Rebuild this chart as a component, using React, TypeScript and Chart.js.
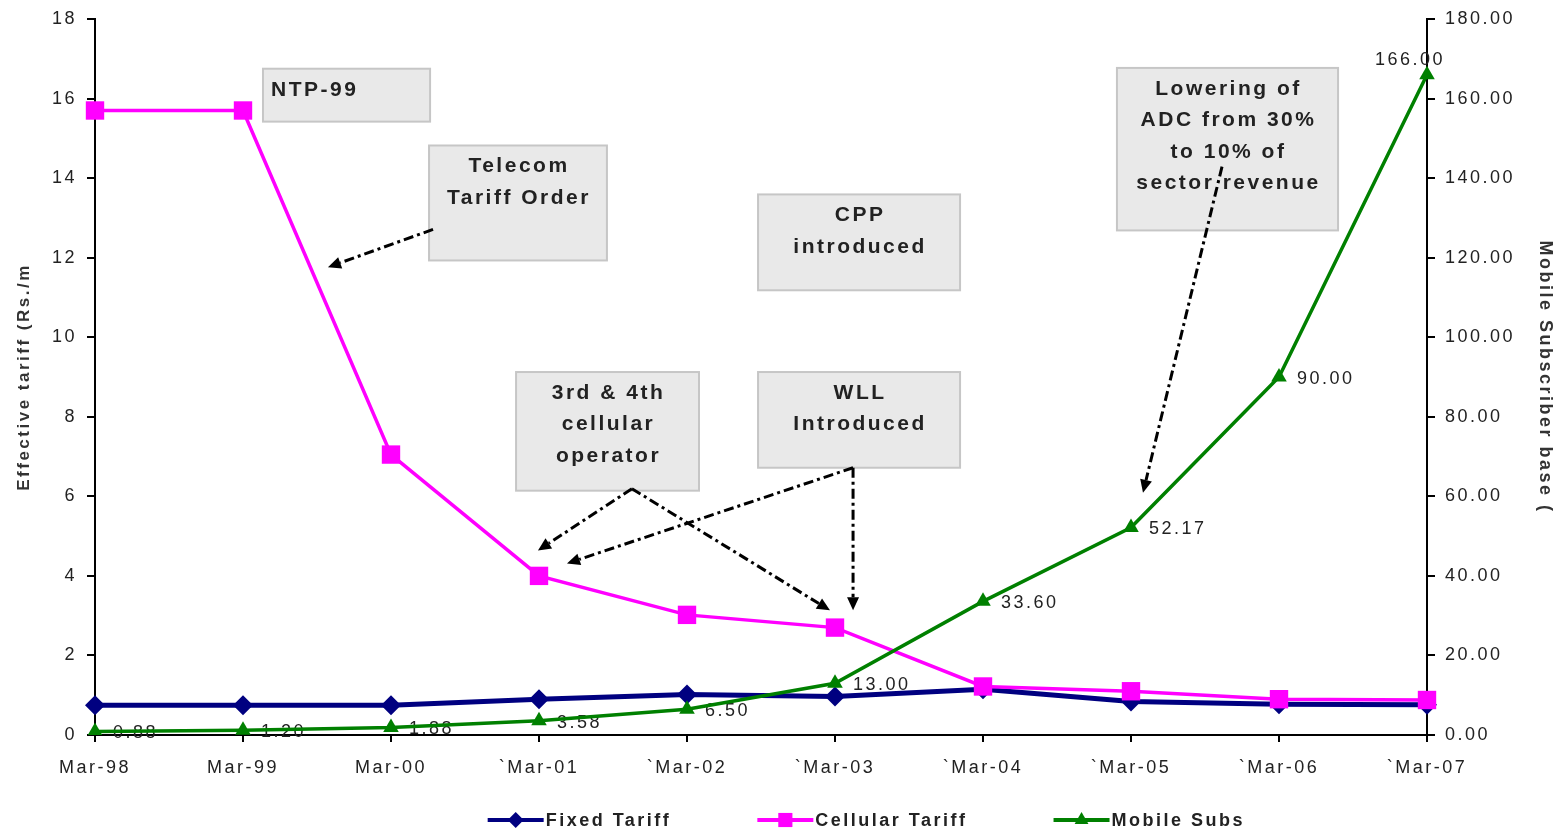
import React, { useEffect, useRef } from "react";
import { Chart, registerables } from "chart.js";

Chart.register(...registerables);

const FONT = "'Liberation Sans', Arial, Helvetica, sans-serif";
const TRACKING = "2.5px";
const TEXT_COLOR = "#222";

// Year-end periods on the category axis
const categories = [
  "Mar-98", "Mar-99", "Mar-00", "`Mar-01", "`Mar-02",
  "`Mar-03", "`Mar-04", "`Mar-05", "`Mar-06", "`Mar-07",
];

// Effective tariffs (Rs./min), left axis
const fixedTariff = [0.75, 0.75, 0.75, 0.9, 1.02, 0.97, 1.15, 0.84, 0.77, 0.76];
const cellularTariff = [15.7, 15.7, 7.05, 4.0, 3.02, 2.7, 1.22, 1.1, 0.9, 0.88];

// Mobile subscriber base (millions), right axis
const mobileSubs = [0.88, 1.2, 1.88, 3.58, 6.5, 13.0, 33.6, 52.17, 90.0, 166.0];

// Policy call-outs, placed in axis units (category index, tariff value)
const callouts = [
  { lines: ["NTP-99"], x0: 1.135, x1: 2.264, yTop: 16.75, yBottom: 15.42, align: "left" },
  { lines: ["Telecom", "Tariff Order"], x0: 2.257, x1: 3.459, yTop: 14.82, yBottom: 11.93, align: "center" },
  { lines: ["CPP", "introduced"], x0: 4.48, x1: 5.845, yTop: 13.59, yBottom: 11.18, align: "center" },
  { lines: ["3rd & 4th", "cellular", "operator"], x0: 2.845, x1: 4.081, yTop: 9.125, yBottom: 6.142, align: "center" },
  { lines: ["WLL", "Introduced"], x0: 4.48, x1: 5.845, yTop: 9.125, yBottom: 6.719, align: "center" },
  { lines: ["Lowering of", "ADC from 30%", "to 10% of", "sector revenue"], x0: 6.905, x1: 8.399, yTop: 16.77, yBottom: 12.685, align: "center" },
];

// Pointer arrows from the call-outs, same units
const pointers = [
  { from: [2.284, 12.71], to: [1.574, 11.76] },
  { from: [3.628, 6.192], to: [2.993, 4.638] },
  { from: [3.628, 6.192], to: [4.966, 3.134] },
  { from: [5.122, 6.719], to: [3.189, 4.312] },
  { from: [5.122, 6.719], to: [5.122, 3.134] },
  { from: [7.615, 14.29], to: [7.081, 6.092] },
];

function drawMarker(ctx: CanvasRenderingContext2D, style: string, x: number, y: number, r: number) {
  ctx.beginPath();
  if (style === "rectRot") {
    ctx.moveTo(x, y - r);
    ctx.lineTo(x + r, y);
    ctx.lineTo(x, y + r);
    ctx.lineTo(x - r, y);
  } else if (style === "rect") {
    const s = r * Math.SQRT1_2;
    ctx.rect(x - s, y - s, 2 * s, 2 * s);
  } else {
    let a = 0;
    ctx.moveTo(x + Math.sin(a) * r, y - Math.cos(a) * r);
    a += (2 * Math.PI) / 3;
    ctx.lineTo(x + Math.sin(a) * r, y - Math.cos(a) * r);
    a += (2 * Math.PI) / 3;
    ctx.lineTo(x + Math.sin(a) * r, y - Math.cos(a) * r);
  }
  ctx.closePath();
  ctx.fill();
}

// Wide tracking for every text the chart renders
const trackingPlugin = {
  id: "tracking",
  beforeUpdate(chart: any) {
    (chart.ctx as any).letterSpacing = TRACKING;
  },
  beforeDraw(chart: any) {
    (chart.ctx as any).letterSpacing = TRACKING;
  },
};

// Value labels on the subscriber series
const valueLabelPlugin = {
  id: "valueLabels",
  beforeDatasetsDraw(chart: any) {
    const ctx: CanvasRenderingContext2D = chart.ctx;
    const meta = chart.getDatasetMeta(2);
    const values = chart.data.datasets[2].data as number[];
    ctx.save();
    (ctx as any).letterSpacing = TRACKING;
    ctx.font = `18px ${FONT}`;
    ctx.fillStyle = TEXT_COLOR;
    ctx.textBaseline = "middle";
    meta.data.forEach((pt: any, i: number) => {
      const txt = values[i].toFixed(2);
      if (i === values.length - 1) {
        ctx.textAlign = "center";
        ctx.fillText(txt, pt.x - 17, pt.y - 15);
      } else {
        ctx.textAlign = "left";
        ctx.fillText(txt, pt.x + 18, pt.y + 2);
      }
    });
    ctx.restore();
  },
};

// Call-out boxes and dash-dot pointer arrows
const calloutPlugin = {
  id: "callouts",
  afterDatasetsDraw(chart: any) {
    const ctx: CanvasRenderingContext2D = chart.ctx;
    const xs = chart.scales.x;
    const ys = chart.scales.y;
    ctx.save();
    callouts.forEach((c) => {
      const l = xs.getPixelForValue(c.x0);
      const r = xs.getPixelForValue(c.x1);
      const t = ys.getPixelForValue(c.yTop);
      const b = ys.getPixelForValue(c.yBottom);
      ctx.fillStyle = "#e9e9e9";
      ctx.fillRect(l, t, r - l, b - t);
      ctx.strokeStyle = "#c6c6c6";
      ctx.lineWidth = 2;
      ctx.strokeRect(l, t, r - l, b - t);
      ctx.fillStyle = TEXT_COLOR;
      ctx.font = `bold 21px ${FONT}`;
      (ctx as any).letterSpacing = "2.5px";
      ctx.textBaseline = "middle";
      c.lines.forEach((line, i) => {
        const y = t + 21 + i * 31.5;
        if (c.align === "left") {
          ctx.textAlign = "left";
          ctx.fillText(line, l + 8, y);
        } else {
          ctx.textAlign = "center";
          ctx.fillText(line, (l + r) / 2 + 1, y);
        }
      });
    });

    pointers.forEach((p) => {
      const x0 = xs.getPixelForValue(p.from[0]);
      const y0 = ys.getPixelForValue(p.from[1]);
      const x1 = xs.getPixelForValue(p.to[0]);
      const y1 = ys.getPixelForValue(p.to[1]);
      const ang = Math.atan2(y1 - y0, x1 - x0);
      const head = 13;
      const half = 6;
      ctx.strokeStyle = "#000";
      ctx.lineWidth = 3;
      ctx.setLineDash([10, 4, 3, 4]);
      ctx.beginPath();
      ctx.moveTo(x0, y0);
      ctx.lineTo(x1 - Math.cos(ang) * head, y1 - Math.sin(ang) * head);
      ctx.stroke();
      ctx.setLineDash([]);
      ctx.fillStyle = "#000";
      ctx.beginPath();
      ctx.moveTo(x1, y1);
      ctx.lineTo(
        x1 - Math.cos(ang) * head + Math.cos(ang + Math.PI / 2) * half,
        y1 - Math.sin(ang) * head + Math.sin(ang + Math.PI / 2) * half
      );
      ctx.lineTo(
        x1 - Math.cos(ang) * head - Math.cos(ang + Math.PI / 2) * half,
        y1 - Math.sin(ang) * head - Math.sin(ang + Math.PI / 2) * half
      );
      ctx.closePath();
      ctx.fill();
    });
    ctx.restore();
  },
};

// Legend row beneath the category axis: line sample with its marker, then the name
const legendRowPlugin = {
  id: "legendRow",
  afterDraw(chart: any) {
    const ctx: CanvasRenderingContext2D = chart.ctx;
    const sample = 56;
    const gap = 86;
    const y = chart.height - 11;
    ctx.save();
    ctx.font = `bold 18px ${FONT}`;
    (ctx as any).letterSpacing = "2.5px";
    const items = chart.data.datasets.map((ds: any) => ({
      text: ds.label,
      color: ds.borderColor,
      style: ds.pointStyle,
      w: ctx.measureText(ds.label).width,
    }));
    const total = items.reduce((s: number, it: any) => s + sample + 2 + it.w, 0) + gap * (items.length - 1);
    let x = chart.width * 0.555 - total / 2;
    items.forEach((it: any) => {
      ctx.strokeStyle = it.color;
      ctx.lineWidth = 4;
      ctx.beginPath();
      ctx.moveTo(x, y);
      ctx.lineTo(x + sample, y);
      ctx.stroke();
      ctx.fillStyle = it.color;
      drawMarker(ctx, it.style, x + sample / 2, y, it.style === "rect" ? 10 : 8);
      ctx.fillStyle = TEXT_COLOR;
      ctx.textAlign = "left";
      ctx.textBaseline = "middle";
      ctx.fillText(it.text, x + sample + 2, y + 1);
      x += sample + 2 + it.w + gap;
    });
    ctx.restore();
  },
};

export default function App() {
  const canvasRef = useRef<HTMLCanvasElement | null>(null);

  useEffect(() => {
    if (!canvasRef.current) return;
    const chart = new Chart(canvasRef.current, {
      type: "line",
      data: {
        labels: categories,
        datasets: [
          {
            label: "Fixed Tariff",
            data: fixedTariff,
            yAxisID: "y",
            borderColor: "#000080",
            backgroundColor: "#000080",
            borderWidth: 5,
            pointStyle: "rectRot",
            pointRadius: 10,
            pointBorderWidth: 0,
            tension: 0,
            order: 2,
          },
          {
            label: "Cellular Tariff",
            data: cellularTariff,
            yAxisID: "y",
            borderColor: "#ff00ff",
            backgroundColor: "#ff00ff",
            borderWidth: 3.5,
            pointStyle: "rect",
            pointRadius: 13,
            pointBorderWidth: 0,
            tension: 0,
            order: 1,
          },
          {
            label: "Mobile Subs",
            data: mobileSubs,
            yAxisID: "y1",
            borderColor: "#008000",
            backgroundColor: "#008000",
            borderWidth: 3.5,
            pointStyle: "triangle",
            pointRadius: 9,
            pointBorderWidth: 0,
            tension: 0,
            order: 0,
          },
        ],
      },
      options: {
        responsive: true,
        maintainAspectRatio: false,
        animation: false,
        layout: { padding: { top: 17, left: 0, right: 0, bottom: 0 } },
        plugins: {
          legend: { display: false },
          tooltip: { enabled: false },
        },
        scales: {
          x: {
            type: "category",
            offset: false,
            border: { color: "#000", width: 2 },
            grid: { drawOnChartArea: false, tickLength: 7, color: "#000", lineWidth: 2 },
            ticks: {
              color: TEXT_COLOR,
              font: { family: FONT, size: 18 },
              padding: 15,
              maxRotation: 0,
              autoSkip: false,
            },
            afterFit(scale: any) {
              scale.height = 96;
            },
          },
          y: {
            position: "left",
            min: 0,
            max: 18,
            border: { color: "#000", width: 2 },
            grid: { drawOnChartArea: false, tickLength: 8, color: "#000", lineWidth: 2 },
            ticks: {
              stepSize: 2,
              color: TEXT_COLOR,
              font: { family: FONT, size: 18, lineHeight: 1 },
              padding: 10,
            },
            title: {
              display: true,
              text: "Effective tariff (Rs./m",
              color: "#333",
              font: { family: FONT, size: 17, weight: "bold" },
              padding: { top: 14, bottom: 0 },
            },
            afterFit(scale: any) {
              scale.width = 95;
            },
          },
          y1: {
            position: "right",
            min: 0,
            max: 180,
            border: { color: "#000", width: 2 },
            grid: { drawOnChartArea: false, tickLength: 8, color: "#000", lineWidth: 2 },
            ticks: {
              stepSize: 20,
              color: TEXT_COLOR,
              font: { family: FONT, size: 18, lineHeight: 1 },
              padding: 10,
              callback: (v: any) => Number(v).toFixed(2),
            },
            title: {
              display: true,
              text: "Mobile Subscriber base (",
              color: "#333",
              font: { family: FONT, size: 18, weight: "bold" },
              padding: { top: 5, bottom: 0 },
            },
            afterFit(scale: any) {
              scale.width = 134;
            },
          },
        },
      },
      plugins: [trackingPlugin, valueLabelPlugin, calloutPlugin, legendRowPlugin],
    } as any);
    return () => chart.destroy();
  }, []);

  return (
    <div style={{ position: "fixed", left: 0, top: 0, width: 1561, height: 831, background: "#fff" }}>
      <canvas ref={canvasRef} />
    </div>
  );
}
